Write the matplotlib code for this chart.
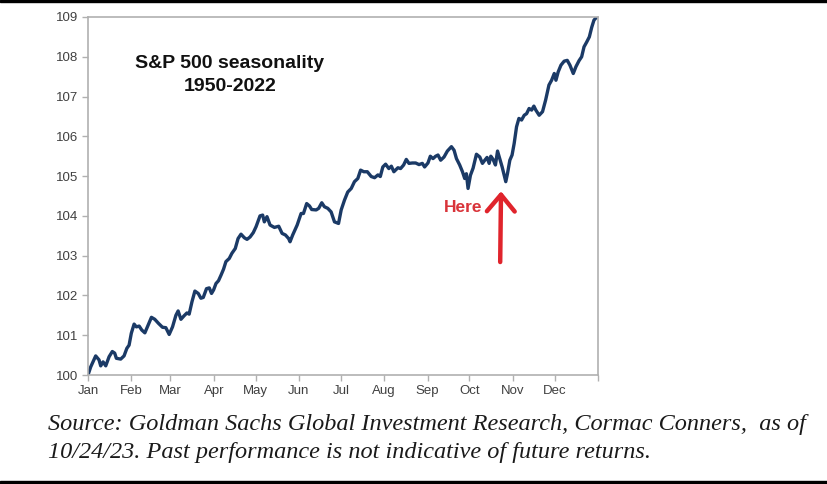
import matplotlib
matplotlib.use("Agg")
import matplotlib.pyplot as plt
from matplotlib.patches import Rectangle

# S&P 500 average seasonal path, 1950-2022 (index = 100 on Jan 1)
# x = day of year
days = [0, 1.9, 5.5, 7.9, 9.1, 10.8, 12.7, 15.1, 17.4, 19.1, 20.3, 23.4, 25.8, 27.8, 29.4,
        31.0, 33.0, 34.6, 36.6, 38.5, 40.7, 42.5, 45.4, 47.8, 50.4, 53.3, 55.7, 58.1,
        60.5, 62.9, 64.5, 66.5, 68.8, 70.8, 72.4, 74.4, 76.5, 78.9, 80.8, 82.5, 84.8,
        86.8, 88.4, 89.9, 91.6, 93.4, 95.2, 97.0, 98.7, 101.1, 103.0, 105.4, 107.4,
        109.5, 111.9, 113.8, 116.0, 118.3, 120.3, 123.1, 125.0, 126.2, 128.1, 130.3,
        133.4, 136.5, 138.9, 141.3, 143.6, 144.6, 146.5, 149.7, 152.5, 154.2, 156.5,
        158.5, 160.1, 163.3, 165.1, 167.3, 169.2, 171.6, 174.0, 176.4, 179.3, 181.2,
        183.6, 185.9, 188.4, 190.7, 193.1, 195.1, 197.4, 199.9, 202.7, 205.1, 207.5,
        209.2, 211.0, 213.0, 215.3, 217.1, 218.9, 221.8, 223.7, 225.9, 227.8, 229.7,
        232.1, 234.5, 236.9, 239.3, 240.9, 243.3, 245.0, 246.9, 248.8, 250.5, 252.4,
        254.8, 257.2, 260.1, 262.0, 263.7, 266.0, 268.0, 269.6, 270.8, 272.0, 273.7,
        275.6, 278.0, 280.4, 282.3, 284.0, 285.6, 287.1, 288.3, 289.9, 291.6, 293.1,
        294.7, 296.4, 297.6, 299.0, 300.2, 301.9, 303.5, 305.0, 306.7, 308.4, 310.3,
        312.2, 313.9, 315.7, 317.5, 319.1, 320.5, 322.9, 325.3, 327.5, 329.9, 331.8,
        333.7, 334.9, 336.5, 338.5, 340.8, 343.0, 344.9, 347.3, 349.2, 351.4, 353.3,
        355.0, 356.9, 358.8, 360.5, 362.1, 364.1, 365.0]
level = [100.00, 100.20, 100.48, 100.38, 100.23, 100.33, 100.23, 100.46, 100.59, 100.55,
         100.42, 100.40, 100.48, 100.67, 100.75, 101.05, 101.28, 101.21, 101.23, 101.13,
         101.06, 101.21, 101.45, 101.40, 101.30, 101.20, 101.19, 101.02, 101.21, 101.50,
         101.61, 101.40, 101.49, 101.56, 101.53, 101.84, 102.11, 102.05, 101.93, 101.95,
         102.17, 102.19, 102.05, 102.14, 102.30, 102.37, 102.51, 102.66, 102.85, 102.93,
         103.06, 103.18, 103.43, 103.54, 103.45, 103.41, 103.47, 103.58, 103.73, 104.00,
         104.02, 103.85, 103.98, 103.77, 103.71, 103.74, 103.56, 103.52, 103.43, 103.35,
         103.52, 103.77, 104.06, 104.06, 104.31, 104.25, 104.16, 104.15, 104.19, 104.33,
         104.23, 104.19, 104.10, 103.85, 103.81, 104.15, 104.40, 104.60, 104.69, 104.86,
         104.94, 105.15, 105.11, 105.11, 104.99, 104.96, 105.03, 104.99, 105.23, 105.30,
         105.19, 105.25, 105.11, 105.21, 105.19, 105.28, 105.42, 105.32, 105.33, 105.33,
         105.29, 105.32, 105.23, 105.33, 105.50, 105.44, 105.50, 105.53, 105.40, 105.48,
         105.63, 105.74, 105.65, 105.44, 105.28, 105.11, 104.94, 105.06, 104.69, 105.02,
         105.20, 105.55, 105.48, 105.32, 105.40, 105.47, 105.32, 105.50, 105.42, 105.28,
         105.63, 105.44, 105.23, 105.06, 104.86, 105.06, 105.40, 105.53, 105.82, 106.24,
         106.45, 106.41, 106.53, 106.57, 106.70, 106.66, 106.76, 106.66, 106.53, 106.62,
         106.91, 107.29, 107.41, 107.58, 107.41, 107.62, 107.79, 107.89, 107.91, 107.79,
         107.58, 107.75, 107.90, 108.00, 108.25, 108.37, 108.50, 108.74, 108.92, 109.00,
         109.05]

month_starts = [0, 31, 59, 90, 120, 151, 181, 212, 243, 273, 304, 334, 365]
month_labels = ["Jan", "Feb", "Mar", "Apr", "May", "Jun", "Jul", "Aug", "Sep", "Oct",
                "Nov", "Dec", ""]
y_ticks = [100, 101, 102, 103, 104, 105, 106, 107, 108, 109]

title_lines = ["S&P 500 seasonality", "1950-2022"]
caption_lines = ["Source: Goldman Sachs Global Investment Research, Cormac Conners,  as of",
                 "10/24/23. Past performance is not indicative of future returns."]

line_color = "#1b3a66"
red = "#e0242c"
grey = "#b0b0b0"
tick_text = "#404040"

fig = plt.figure(figsize=(8.28, 4.84), dpi=100)
ax = fig.add_axes([88 / 828, 109 / 484, 510 / 828, 358 / 484])

ax.plot(days, level, color=line_color, lw=2.4, solid_joinstyle="round")

ax.set_xlim(0, 365)
ax.set_ylim(100, 109)
ax.set_xticks(month_starts)
ax.set_xticklabels(month_labels)
ax.set_yticks(y_ticks)
for s in ax.spines.values():
    s.set_color(grey)
    s.set_linewidth(1.2)
ax.tick_params(axis="both", direction="out", length=4, width=1, color=grey,
               labelsize=9.5, labelcolor=tick_text, pad=3)
for lab in ax.get_xticklabels() + ax.get_yticklabels():
    lab.set_family("Liberation Sans")

# chart title inside the plot area
ax.text(0.278, 0.871, title_lines[0], transform=ax.transAxes, ha="center", va="center",
        fontsize=14, fontweight="bold", family="Liberation Sans", color="#111111")
ax.text(0.278, 0.807, title_lines[1], transform=ax.transAxes, ha="center", va="center",
        fontsize=14, fontweight="bold", family="Liberation Sans", color="#111111")

# "Here" marker
ax.text(268.2, 104.22, "Here", ha="center", va="center", fontsize=12.5,
        fontweight="bold", family="Liberation Sans", color="#d9343a")
ax.annotate("", xy=(295.6, 104.62), xytext=(295.0, 102.84),
            arrowprops=dict(arrowstyle="->, head_length=0.6, head_width=0.5",
                            color=red, lw=3.2, mutation_scale=20,
                            shrinkA=0, shrinkB=0, capstyle="round"))

# source note below the chart
for text, base in zip(caption_lines, [430, 458]):
    fig.text(48 / 828, 1 - base / 484, text, ha="left", va="baseline", fontsize=17.5,
             style="italic", family="Liberation Serif", color="#1a1a1a")

# black bands at the top and bottom of the screenshot
fig.patches.append(Rectangle((0, 1 - 2 / 484), 1, 2 / 484, transform=fig.transFigure,
                             color="black", zorder=10))
fig.patches.append(Rectangle((0, 0), 1, 3 / 484, transform=fig.transFigure,
                             color="black", zorder=10))

fig.savefig("out.png", dpi=100)
